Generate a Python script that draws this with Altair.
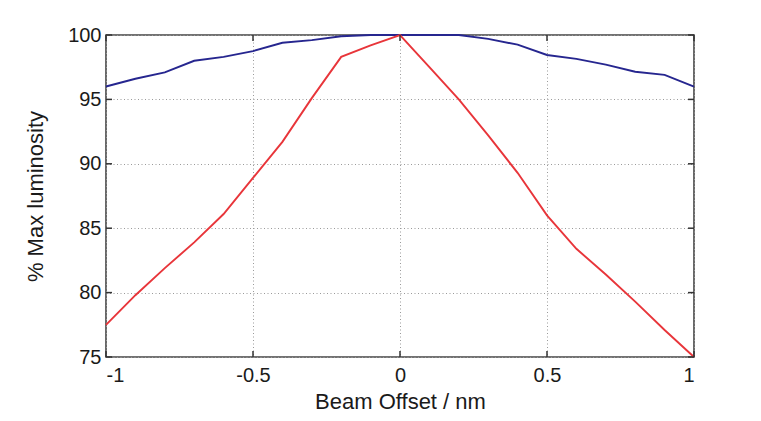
import altair as alt
import pandas as pd

# Beam offset (nm)
offsets = [-1.0, -0.9, -0.8, -0.7, -0.6, -0.5, -0.4, -0.3, -0.2, -0.1, 0.0,
           0.1, 0.2, 0.3, 0.4, 0.5, 0.6, 0.7, 0.8, 0.9, 1.0]
# % max luminosity, blue series
blue_vals = [96.0, 96.6, 97.1, 98.0, 98.3, 98.75, 99.4, 99.6, 99.9, 100.0, 100.0,
             100.0, 100.0, 99.7, 99.25, 98.45, 98.15, 97.7, 97.15, 96.9, 96.0]
# % max luminosity, red series
red_vals = [77.5, 79.8, 81.9, 83.9, 86.1, 88.9, 91.7, 95.1, 98.3, 99.2, 100.0,
            97.5, 95.0, 92.2, 89.3, 86.0, 83.4, 81.4, 79.3, 77.1, 75.0]

x_ticks = [-1, -0.5, 0, 0.5, 1]
y_ticks = [75, 80, 85, 90, 95, 100]

W, H = 588, 322
FONT = "Liberation Sans"

df = pd.DataFrame({
    "offset": offsets * 2,
    "lum": blue_vals + red_vals,
    "series": ["blue"] * len(offsets) + ["red"] * len(offsets),
})

xs = alt.Scale(domain=[-1, 1], nice=False, zero=False)
ys = alt.Scale(domain=[75, 100], nice=False, zero=False)

lines = alt.Chart(df).mark_line(strokeWidth=1.9, clip=False).encode(
    x=alt.X("offset:Q", scale=xs, title="Beam Offset / nm",
            axis=alt.Axis(values=x_ticks, labelExpr="'' + datum.value",
                          grid=True, gridDash=[1, 2.5], gridColor="#9a9a9a",
                          ticks=False, tickSize=0, labelPadding=8,
                          titlePadding=6, domain=False)),
    y=alt.Y("lum:Q", scale=ys, title="% Max luminosity",
            axis=alt.Axis(values=y_ticks, grid=True, gridDash=[1, 2.5],
                          gridColor="#9a9a9a", ticks=False, tickSize=0,
                          labelPadding=5, titlePadding=20, domain=False)),
    color=alt.Color("series:N",
                    scale=alt.Scale(domain=["blue", "red"],
                                    range=["#26268f", "#e8353a"]),
                    legend=None),
    detail="series:N",
)

ydf = pd.DataFrame({"v": y_ticks})
xdf = pd.DataFrame({"v": x_ticks})

yl = alt.Chart(ydf).mark_rule(color="#333333", strokeWidth=1.5).encode(
    y=alt.Y("v:Q", scale=ys), x=alt.value(0), x2=alt.value(6))
yr = alt.Chart(ydf).mark_rule(color="#333333", strokeWidth=1.5).encode(
    y=alt.Y("v:Q", scale=ys), x=alt.value(W - 6), x2=alt.value(W))
xb = alt.Chart(xdf).mark_rule(color="#333333", strokeWidth=1.5).encode(
    x=alt.X("v:Q", scale=xs), y=alt.value(H - 6), y2=alt.value(H))
xt = alt.Chart(xdf).mark_rule(color="#333333", strokeWidth=1.5).encode(
    x=alt.X("v:Q", scale=xs), y=alt.value(0), y2=alt.value(6))

chart = alt.layer(lines, yl, yr, xb, xt).properties(
    width=W, height=H,
    autosize=alt.AutoSizeParams(type="none"),
    padding={"left": 98, "top": 27, "right": 55, "bottom": 56},
    background="white",
).configure_view(
    stroke="#444444", strokeWidth=1.6
).configure_axis(
    labelFont=FONT, titleFont=FONT, labelFontSize=20, titleFontSize=22,
    labelColor="#1a1a1a", titleColor="#1a1a1a", titleFontWeight="normal",
)

chart.save("out.html", embed_options={"renderer": "svg", "actions": False})
